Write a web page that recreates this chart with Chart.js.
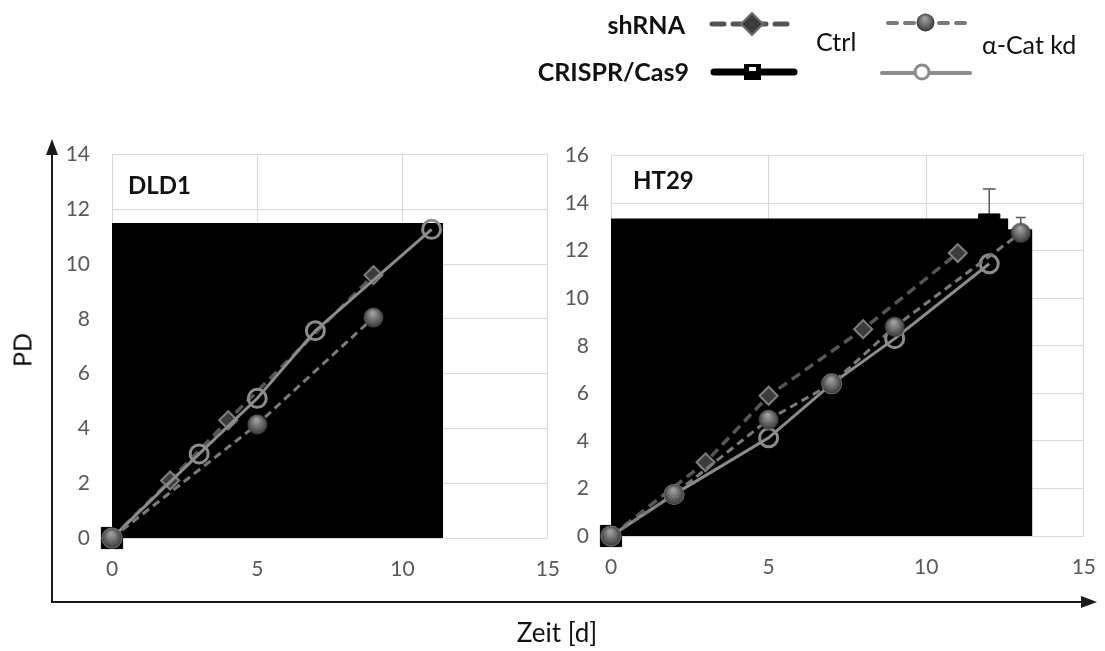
<!DOCTYPE html>
<html>
<head>
<meta charset="utf-8">
<script src="https://cdn.jsdelivr.net/npm/chart.js@4.4.1/dist/chart.umd.min.js"></script>
<style>
  body { margin: 0; width: 1105px; height: 651px; background: #fff; position: relative; overflow: hidden; font-family: Lato, sans-serif; }
  .box { position: absolute; }
  .lbl { position: absolute; white-space: nowrap; line-height: 1; color: #111; }
  .bold { font-weight: bold; }
</style>
</head>
<body>
<canvas id="overlay" width="1105" height="651" style="position:absolute;left:0;top:0"></canvas>
<div class="box" style="left:40px;top:120px;width:539px;height:460px"><canvas id="dld1"></canvas></div>
<div class="box" style="left:539px;top:121px;width:576px;height:457px"><canvas id="ht29"></canvas></div>

<div class="lbl bold" style="right:420px;top:12px;font-size:25px">shRNA</div>
<div class="lbl bold" style="right:416px;top:59px;font-size:25px">CRISPR/Cas9</div>
<div class="lbl" style="left:816px;top:29px;font-size:25px">Ctrl</div>
<div class="lbl" style="left:982px;top:32px;font-size:25px">α-Cat kd</div>

<div class="lbl bold" style="left:128px;top:173px;font-size:24px">DLD1</div>
<div class="lbl bold" style="left:633px;top:168px;font-size:24px">HT29</div>

<div class="lbl" style="left:22px;top:350px;font-size:25px;transform:translate(-50%,-50%) rotate(-90deg)">PD</div>
<div class="lbl" style="left:557px;top:632px;font-size:26px;transform:translate(-50%,-50%)">Zeit [d]</div>

<script>
// DLD1 series (x = days, y = population doublings)
const dldShCtrlX = [0, 2, 4, 9];
const dldShCtrlY = [0, 2.1, 4.3, 9.6];
const dldShKdX = [0, 5, 9];
const dldShKdY = [0, 4.15, 8.05];
const dldCrCtrlX = [0, 3, 5, 7, 11];
const dldCrCtrlY = [0, 3.2, 5.3, 7.8, 10.9];
const dldCrKdX = [0, 3, 5, 7, 11];
const dldCrKdY = [0, 3.07, 5.1, 7.57, 11.27];
const dldBlockX = [0, 11.4];
const dldBlockY = [11.5, 11.5];

// HT29 series
const htShCtrlX = [0, 3, 5, 8, 11];
const htShCtrlY = [0, 3.1, 5.9, 8.7, 11.9];
const htShKdX = [0, 2, 5, 7, 9, 13];
const htShKdY = [0, 1.75, 4.9, 6.4, 8.8, 12.75];
const htShKdErr = [0, 0, 0, 0, 0, 0.65];
const htCrCtrlX = [0, 2, 5, 7, 9, 12];
const htCrCtrlY = [0, 1.9, 5.0, 7.0, 9.5, 13.1];
const htCrCtrlErr = [0, 0, 0, 0, 0, 1.5];
const htCrKdX = [0, 2, 5, 7, 9, 12];
const htCrKdY = [0, 1.75, 4.13, 6.4, 8.3, 11.45];
const htBlockX = [0, 12.6, 12.6, 13.37];
const htBlockY = [13.35, 13.35, 12.9, 12.9];

const xTicks = [0, 5, 10, 15];
const dldYMax = 14;
const htYMax = 16;

const pts = (xs, ys) => xs.map((x, i) => ({ x: x, y: ys[i] }));

// shaded grey ball used as the alpha-Cat kd shRNA marker
function makeBall(d) {
  const c = document.createElement('canvas');
  c.width = c.height = d;
  const g = c.getContext('2d');
  const r = d / 2;
  const grad = g.createRadialGradient(r * 0.9, r * 0.55, r * 0.1, r, r, r);
  grad.addColorStop(0, '#a0a0a0');
  grad.addColorStop(0.55, '#676767');
  grad.addColorStop(1, '#353535');
  g.fillStyle = grad;
  g.beginPath();
  g.arc(r, r, r - 0.5, 0, Math.PI * 2);
  g.fill();
  return c;
}
const ball = makeBall(21);

// vertical error bars (upper side only), from a dataset's `errors` array
const errorBars = {
  id: 'errorBars',
  beforeDatasetsDraw(chart) {
    const ctx = chart.ctx;
    const xs = chart.scales.x, ys = chart.scales.y;
    ctx.save();
    ctx.strokeStyle = '#595959';
    ctx.lineWidth = 1.5;
    chart.data.datasets.forEach(ds => {
      if (!ds.errors) return;
      ds.data.forEach((p, i) => {
        const e = ds.errors[i];
        if (!e) return;
        const px = xs.getPixelForValue(p.x);
        const y0 = ys.getPixelForValue(p.y);
        const y1 = ys.getPixelForValue(p.y + e);
        const cap = ds.capWidth || 6;
        ctx.beginPath();
        ctx.moveTo(px, y0);
        ctx.lineTo(px, y1);
        ctx.moveTo(px - cap, y1);
        ctx.lineTo(px + cap, y1);
        ctx.stroke();
      });
    });
    ctx.restore();
  }
};

function shCtrl(xs, ys) {
  return {
    data: pts(xs, ys), order: 3, clip: false,
    borderColor: '#555555', borderWidth: 3.5, borderDash: [10, 6],
    pointStyle: 'rectRot', pointRadius: 9,
    pointBackgroundColor: '#3c3c3c', pointBorderColor: '#7f7f7f', pointBorderWidth: 2
  };
}
function shKd(xs, ys, errs) {
  return {
    data: pts(xs, ys), order: 1, clip: false, errors: errs, capWidth: 5,
    borderColor: '#7a7a7a', borderWidth: 3, borderDash: [8, 5],
    pointStyle: ball, pointRadius: 10
  };
}
function crCtrl(xs, ys, errs) {
  return {
    data: pts(xs, ys), order: 4, clip: false, errors: errs, capWidth: 6.5,
    borderColor: '#000', borderWidth: 5,
    pointStyle: 'rect', pointRadius: 15,
    pointBackgroundColor: '#000', pointBorderColor: '#000', pointBorderWidth: 1
  };
}
function crKd(xs, ys) {
  return {
    data: pts(xs, ys), order: 2, clip: false,
    borderColor: '#8c8c8c', borderWidth: 3,
    pointStyle: 'circle', pointRadius: 9,
    pointBackgroundColor: 'rgba(0,0,0,0)', pointBorderColor: '#8c8c8c', pointBorderWidth: 3
  };
}
function block(xs, ys) {
  return {
    data: pts(xs, ys), order: 10, clip: false,
    fill: 'origin', backgroundColor: '#000', borderWidth: 0, pointRadius: 0
  };
}

function panel(id, sets, yMax) {
  const tickFont = { family: 'Lato', size: 21 };
  return new Chart(document.getElementById(id), {
    type: 'line',
    data: { datasets: sets },
    options: {
      responsive: true,
      maintainAspectRatio: false,
      animation: false,
      layout: { padding: 0 },
      plugins: { legend: { display: false }, tooltip: { enabled: false } },
      elements: { line: { tension: 0 } },
      scales: {
        x: {
          type: 'linear', min: 0, max: 15,
          afterBuildTicks: s => { s.ticks = xTicks.map(v => ({ value: v })); },
          ticks: { color: '#595959', font: tickFont, padding: 19 },
          grid: { color: '#d9d9d9', drawTicks: false },
          border: { color: '#d9d9d9' },
          afterFit: s => { s.height = 42; }
        },
        y: {
          min: 0, max: yMax,
          ticks: { stepSize: 2, color: '#595959', font: tickFont, padding: 22 },
          grid: { color: '#d9d9d9', drawTicks: false },
          border: { color: '#d9d9d9' },
          afterFit: s => { s.width = 72; }
        }
      }
    },
    plugins: [errorBars]
  });
}

panel('dld1', [
  shCtrl(dldShCtrlX, dldShCtrlY),
  shKd(dldShKdX, dldShKdY, null),
  crCtrl(dldCrCtrlX, dldCrCtrlY, null),
  crKd(dldCrKdX, dldCrKdY),
  block(dldBlockX, dldBlockY)
], dldYMax);

panel('ht29', [
  shCtrl(htShCtrlX, htShCtrlY),
  shKd(htShKdX, htShKdY, htShKdErr),
  crCtrl(htCrCtrlX, htCrCtrlY, htCrCtrlErr),
  crKd(htCrKdX, htCrKdY),
  block(htBlockX, htBlockY)
], htYMax);

// outer axis arrows and legend line samples
const ov = document.getElementById('overlay').getContext('2d');
ov.strokeStyle = '#1a1a1a';
ov.fillStyle = '#1a1a1a';
ov.lineWidth = 2;
ov.beginPath();
ov.moveTo(52, 603);
ov.lineTo(52, 152);
ov.moveTo(51, 602);
ov.lineTo(1084, 602);
ov.stroke();
ov.beginPath();
ov.moveTo(52, 139); ov.lineTo(46, 155); ov.lineTo(58, 155); ov.closePath();
ov.fill();
ov.beginPath();
ov.moveTo(1097, 602); ov.lineTo(1081, 596); ov.lineTo(1081, 608); ov.closePath();
ov.fill();

ov.lineCap = 'round';
// shRNA / Ctrl
ov.strokeStyle = '#555555'; ov.lineWidth = 5; ov.setLineDash([12, 9]);
ov.beginPath(); ov.moveTo(712, 24); ov.lineTo(792, 24); ov.stroke();
ov.setLineDash([]);
ov.fillStyle = '#3c3c3c'; ov.strokeStyle = '#6f6f6f'; ov.lineWidth = 2;
ov.beginPath(); ov.moveTo(752, 13); ov.lineTo(763, 24); ov.lineTo(752, 35); ov.lineTo(741, 24); ov.closePath();
ov.fill(); ov.stroke();
// shRNA / alpha-Cat kd
ov.strokeStyle = '#7a7a7a'; ov.lineWidth = 4; ov.setLineDash([9, 8]);
ov.beginPath(); ov.moveTo(888, 23); ov.lineTo(967, 23); ov.stroke();
ov.setLineDash([]);
ov.drawImage(makeBall(19), 916, 13);
// CRISPR / Ctrl
ov.strokeStyle = '#000'; ov.lineWidth = 7;
ov.beginPath(); ov.moveTo(714, 72); ov.lineTo(794, 72); ov.stroke();
ov.fillStyle = '#000';
ov.fillRect(744, 64, 17, 16);
ov.fillStyle = '#fff';
ov.fillRect(749, 67, 7, 4);
// CRISPR / alpha-Cat kd
ov.strokeStyle = '#8c8c8c'; ov.lineWidth = 4;
ov.beginPath(); ov.moveTo(882, 73); ov.lineTo(970, 73); ov.stroke();
ov.fillStyle = '#fff'; ov.lineWidth = 3;
ov.beginPath(); ov.arc(922, 72, 7, 0, Math.PI * 2); ov.fill(); ov.stroke();
</script>
</body>
</html>
